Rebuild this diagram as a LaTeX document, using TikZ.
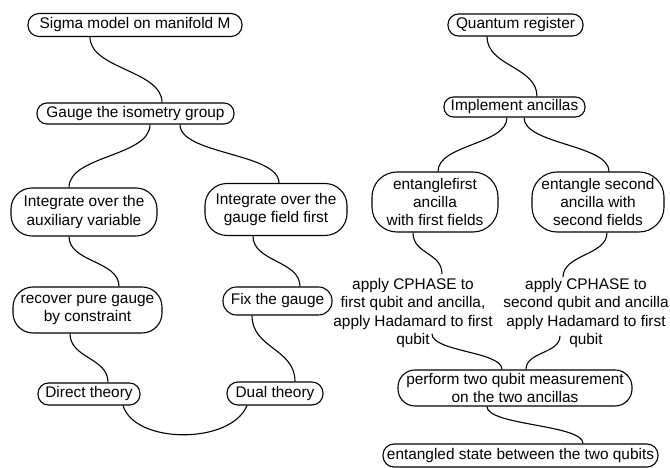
\documentclass[tikz,border=0pt]{standalone}
\usepackage{fontspec}
\setmainfont{Liberation Sans}
\begin{document}
\begin{tikzpicture}[x=1pt,y=1pt,
  every node/.style={font=\fontsize{15.4}{18.3}\selectfont},
  pill/.style n args={3}{draw, line width=1.1pt, minimum width=#1pt, minimum height=#2pt,
     rounded corners=#3pt, inner sep=0pt, align=center},
  plain/.style={inner sep=0pt, align=center},
  conn/.style={draw, line width=1.1pt}]
\useasboundingbox (0,0) rectangle (670,468);
% left tree
\node[pill={214}{23}{11}] (sigma) at (135,443) {Sigma model on manifold M};
\node[pill={197}{21}{10}] (gauge) at (135.5,354.5) {Gauge the isometry group};
\node[pill={146}{48}{21}] (aux) at (84,256) {Integrate over the\\auxiliary variable};
\node[pill={142}{52}{22}] (intg) at (276,258.5) {Integrate over the\\gauge field first};
\node[pill={149}{46}{20}] (recover) at (87.5,158) {recover pure gauge\\by constraint};
\node[pill={109}{28}{13.5}] (fix) at (277.5,167) {Fix the gauge};
\node[pill={102}{22}{10.5}] (direct) at (89,74) {Direct theory};
\node[pill={96}{23}{11}] (dual) at (275,74.5) {Dual theory};
% right tree
\node[pill={135}{22}{10.5}] (quantum) at (515.5,443) {Quantum register};
\node[pill={141}{20}{9.5}] (implement) at (514.5,361) {Implement ancillas};
\node[pill={126}{60}{25}] (ent1) at (435,266) {entanglefirst\\ancilla\\with first fields};
\node[pill={132}{60}{25}] (ent2) at (598,266) {entangle second\\ancilla with\\second fields};
\node[plain] (apply1) at (413,155) {apply CPHASE to\\first qubit and ancilla,\\apply Hadamard to first\\qubit};
\node[plain] (apply2) at (586,155) {apply CPHASE to\\second qubit and ancilla\\apply Hadamard to first\\qubit};
\node[pill={234}{36}{17}] (perform) at (515,80) {perform two qubit measurement\\on the two ancillas};
\node[pill={275}{23}{11}] (entangled) at (520.5,12.5) {entangled state between the two qubits};
% connectors left
\path[conn] ([xshift=-45pt]sigma.south) .. controls +(0,-32) and +(0,32) .. ([xshift=26.5pt]gauge.north);
\path[conn] ([xshift=14.5pt]gauge.south) .. controls +(0,-32) and +(0,32) .. ([xshift=-15pt]aux.north);
\path[conn] ([xshift=44.5pt]gauge.south) .. controls +(0,-30) and +(0,30) .. ([xshift=3pt]intg.north);
\path[conn] ([xshift=-15pt]aux.south) .. controls +(0,-26) and +(0,26) .. ([xshift=31.5pt]recover.north);
\path[conn] ([xshift=-23pt]intg.south) .. controls +(0,-26) and +(0,26) .. ([xshift=22.5pt]fix.north);
\path[conn] ([xshift=-17.5pt]recover.south) .. controls +(0,-25) and +(0,25) .. ([xshift=19pt]direct.north);
\path[conn] ([xshift=-25.5pt]fix.south) .. controls +(0,-33) and +(0,33) .. ([xshift=20pt]dual.north);
\path[conn] ([xshift=34pt]direct.south) .. controls +(12,-39) and +(-16,-39) .. ([xshift=-28pt]dual.south);
% connectors right
\path[conn] ([xshift=-28.5pt]quantum.south) .. controls +(0,-30) and +(0,30) .. ([xshift=22.5pt]implement.north);
\path[conn] ([xshift=-7.5pt]implement.south) .. controls +(0,-27) and +(0,27) .. ([xshift=3pt]ent1.north);
\path[conn] ([xshift=9.5pt]implement.south) .. controls +(0,-27) and +(0,27) .. ([xshift=11pt]ent2.north);
\path[conn] ([xshift=-22pt]ent1.south) .. controls +(0,-22) and +(0,22) .. ([xshift=29pt,yshift=4pt]apply1.north);
\path[conn] ([xshift=9pt]ent2.south) .. controls +(0,-23) and +(0,23) .. ([xshift=-23pt,yshift=1pt]apply2.north);
\path[conn] ([xshift=19pt,yshift=14pt]apply1.south) .. controls +(0,-18) and +(0,18) .. ([xshift=-13pt]perform.north);
\path[conn] ([xshift=-26pt,yshift=12pt]apply2.south) .. controls +(0,-18) and +(0,18) .. ([xshift=11pt]perform.north);
\path[conn] ([xshift=-28pt]perform.south) .. controls +(0,-19) and +(0,19) .. ([xshift=62.5pt]entangled.north);
\end{tikzpicture}
\end{document}
